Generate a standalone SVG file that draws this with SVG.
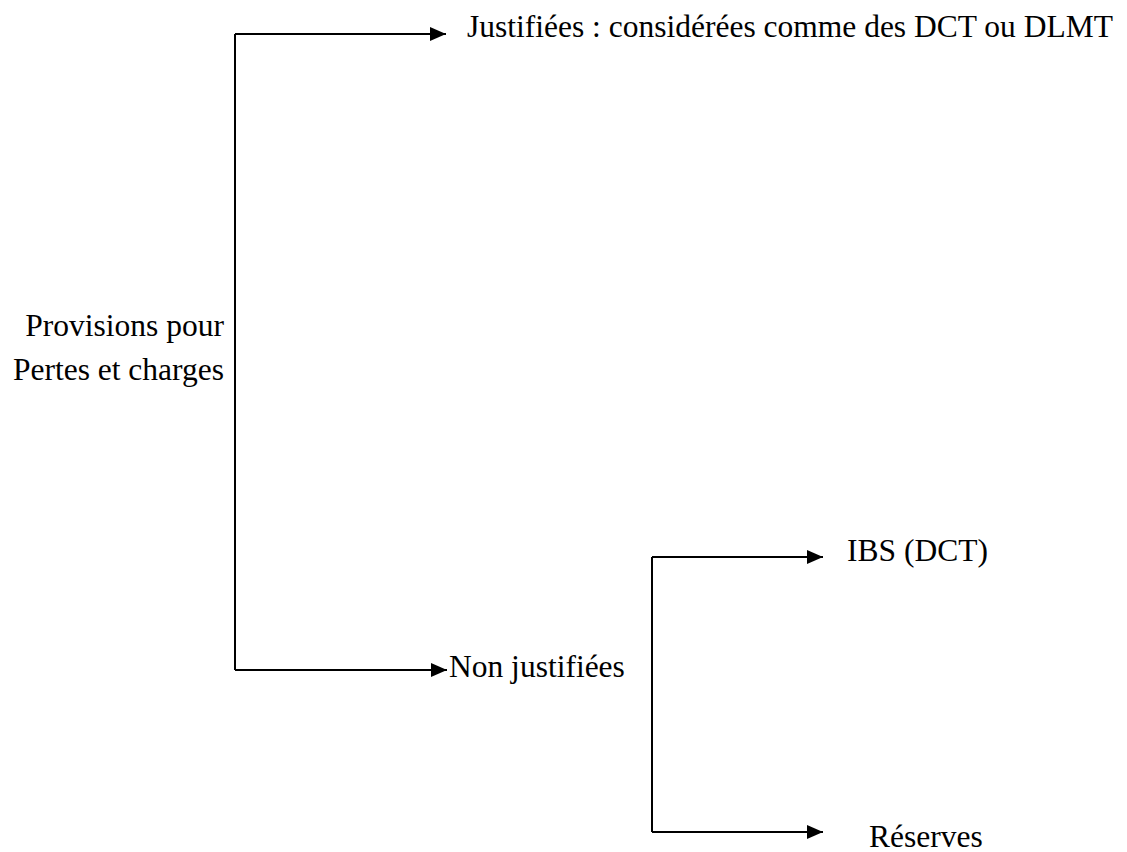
<svg xmlns="http://www.w3.org/2000/svg" width="1127" height="852" viewBox="0 0 1127 852">
<style>
text{font-family:"Liberation Serif","Times New Roman",serif;font-size:31.5px;fill:#000}
.c{stroke:#000;stroke-width:2;fill:none}
</style>
<defs>
<marker id="a" markerWidth="16" markerHeight="14" refX="16" refY="7" orient="auto" markerUnits="userSpaceOnUse"><path d="M0,0L16,7L0,14z" fill="#000"/></marker>
</defs>
<rect width="1127" height="852" fill="#fff"/>
<g id="connectors">
<path class="c" d="M235,34V670"/>
<path class="c" d="M235,34H446" marker-end="url(#a)"/>
<path class="c" d="M235,670H447" marker-end="url(#a)"/>
<path class="c" d="M652,557V832"/>
<path class="c" d="M652,557H823" marker-end="url(#a)"/>
<path class="c" d="M652,832H823" marker-end="url(#a)"/>
</g>
<g id="root"><text x="224" y="336" text-anchor="end">Provisions pour</text><text x="224" y="380" text-anchor="end">Pertes et charges</text></g>
<g id="justifiees"><text x="467" y="37">Justifiées : considérées comme des DCT ou DLMT</text></g>
<g id="nonjustifiees"><text x="449" y="677">Non justifiées</text></g>
<g id="ibs"><text x="847" y="561">IBS (DCT)</text></g>
<g id="reserves"><text x="869" y="847">Réserves</text></g>
</svg>
